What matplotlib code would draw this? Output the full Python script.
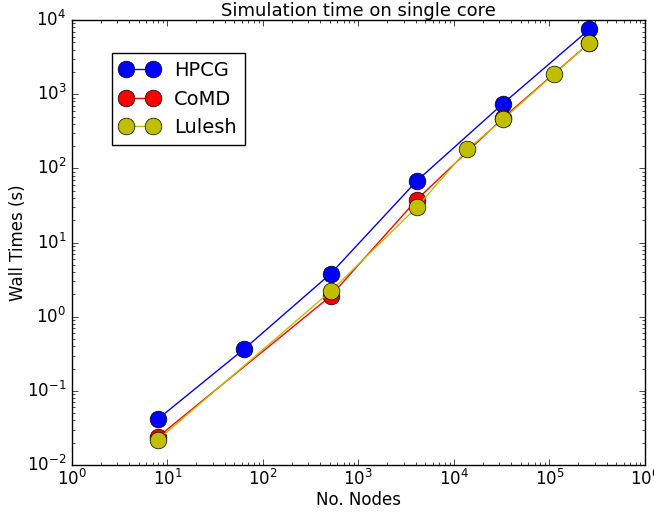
import matplotlib
matplotlib.use('Agg')
import matplotlib.pyplot as plt

plt.style.use('classic')
plt.rcParams['figure.facecolor'] = 'white'
plt.rcParams['savefig.facecolor'] = 'white'

# node counts
hpcg_nodes = [8, 64, 512, 4096, 32768, 262144]
comd_nodes = [8, 512, 4096, 32768, 262144]
lulesh_nodes = [8, 512, 4096, 13824, 32768, 110592, 262144]

# wall times (s)
hpcg_times = [0.042, 0.37, 3.8, 68, 750, 7500]
comd_times = [0.024, 1.9, 38, 480, 4900]
lulesh_times = [0.022, 2.2, 30, 180, 460, 1850, 4900]

fig = plt.figure(figsize=(6.54, 5.15), dpi=100)
ax = fig.add_axes([0.110, 0.097, 0.876, 0.864])

ax.plot(hpcg_nodes, hpcg_times, 'o-', color='b', markersize=12, label='HPCG')
ax.plot(comd_nodes, comd_times, 'o-', color='r', markersize=12, label='CoMD')
ax.plot(lulesh_nodes, lulesh_times, 'o-', color='y', markersize=12, label='Lulesh')

ax.set_xscale('log')
ax.set_yscale('log')
ax.set_xlim(1, 1e6)
ax.set_ylim(1e-2, 1e4)

ax.set_title("Simulation time on single core", fontsize=13, pad=3)
ax.set_xlabel("No. Nodes", labelpad=1)
ax.set_ylabel("Wall Times (s)", labelpad=0)
ax.tick_params(axis='x', pad=3)

ax.legend(loc='upper left', bbox_to_anchor=(0.07, 0.926), borderaxespad=0,
          numpoints=2, fontsize=14)

fig.savefig("out.png", dpi=100)
